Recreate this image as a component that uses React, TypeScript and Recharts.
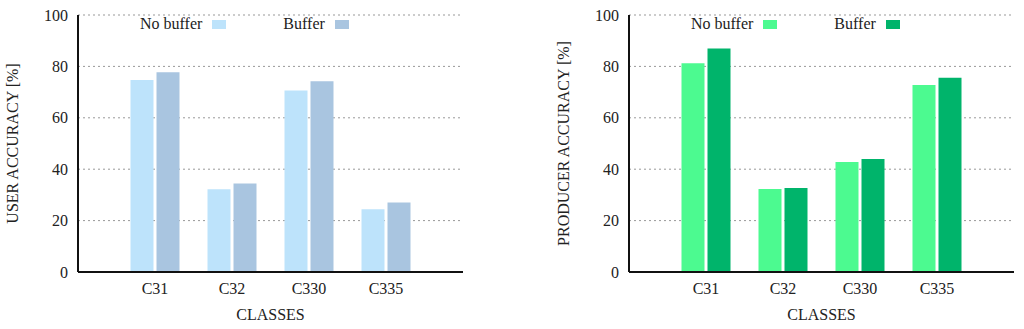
import React from 'react';
import { BarChart, Bar, XAxis, YAxis, CartesianGrid, Legend } from 'recharts';

const classes = ['C31', 'C32', 'C330', 'C335'];
const userNoBuffer = [74.7, 32.2, 70.6, 24.4];
const userBuffer = [77.7, 34.4, 74.2, 27.0];
const producerNoBuffer = [81.2, 32.3, 42.8, 72.8];
const producerBuffer = [87.0, 32.7, 44.0, 75.6];
const yTicks = [0, 20, 40, 60, 80, 100];
const seriesNames = ['No buffer', 'Buffer'];

const FONT = 'Liberation Serif, Times New Roman, serif';
const TEXT = '#222';

interface AccuracyChartProps {
  noBuffer: number[];
  buffer: number[];
  yLabel: string;
  colors: string[];
  leftMargin: number;
  rightMargin: number;
}

const AccuracyChart: React.FC<AccuracyChartProps> = ({ noBuffer, buffer, yLabel, colors, leftMargin, rightMargin }) => {
  const data = classes.map((c, i) => ({ name: c, noBuffer: noBuffer[i], buffer: buffer[i] }));
  const plotLeft = leftMargin + 78;

  // legend drawn in series order (recharts 3 reverses the payload)
  const renderLegend = () => (
    <div style={{ display: 'flex', alignItems: 'center', paddingLeft: plotLeft + 62, fontFamily: FONT, fontSize: 16, color: TEXT, lineHeight: '20px' }}>
      {seriesNames.map((name, i) => (
        <div key={name} style={{ display: 'flex', alignItems: 'center', marginRight: 57 }}>
          <span>{name}</span>
          <span style={{ display: 'inline-block', width: 14, height: 9, marginLeft: 10, background: colors[i] }} />
        </div>
      ))}
    </div>
  );

  const textStyle = { fill: TEXT, fontSize: 16, fontFamily: FONT };

  return (
    <BarChart
      width={512}
      height={329}
      data={data}
      margin={{ top: 15, right: rightMargin, left: leftMargin, bottom: 0 }}
      barCategoryGap={14}
      barGap={3}
      style={{ fontFamily: FONT }}
    >
      <CartesianGrid vertical={false} stroke="#999" strokeDasharray="2 3" />
      <XAxis
        dataKey="name"
        height={57}
        padding={{ left: 38.5, right: 38.5 }}
        tickLine={false}
        tickSize={0}
        tickMargin={11}
        axisLine={{ stroke: '#111', strokeWidth: 2 }}
        tick={textStyle}
        label={{ value: 'CLASSES', position: 'insideBottom', offset: 9, ...textStyle }}
      />
      <YAxis
        width={78}
        domain={[0, 100]}
        ticks={yTicks}
        tickLine={false}
        tickSize={0}
        tickMargin={10}
        axisLine={{ stroke: '#111', strokeWidth: 2 }}
        tick={textStyle}
        label={{ value: yLabel, angle: -90, position: 'insideLeft', offset: 12, ...textStyle, style: { textAnchor: 'middle' } }}
      />
      <Legend
        layout="horizontal"
        verticalAlign="middle"
        align="center"
        content={renderLegend}
        wrapperStyle={{ top: 14, left: 0, width: 512 }}
      />
      <Bar dataKey="noBuffer" name={seriesNames[0]} fill={colors[0]} isAnimationActive={false} />
      <Bar dataKey="buffer" name={seriesNames[1]} fill={colors[1]} isAnimationActive={false} />
    </BarChart>
  );
};

export default function App() {
  return (
    <div style={{ position: 'absolute', left: 0, top: 0, width: 1024, height: 329, display: 'flex', background: '#fff', fontFamily: FONT }}>
      <AccuracyChart
        noBuffer={userNoBuffer}
        buffer={userBuffer}
        yLabel="USER ACCURACY [%]"
        colors={['#bde3fb', '#a9c5e0']}
        leftMargin={0}
        rightMargin={49}
      />
      <AccuracyChart
        noBuffer={producerNoBuffer}
        buffer={producerBuffer}
        yLabel="PRODUCER ACCURACY [%]"
        colors={['#4cfa90', '#00b46b']}
        leftMargin={39}
        rightMargin={10}
      />
    </div>
  );
}
